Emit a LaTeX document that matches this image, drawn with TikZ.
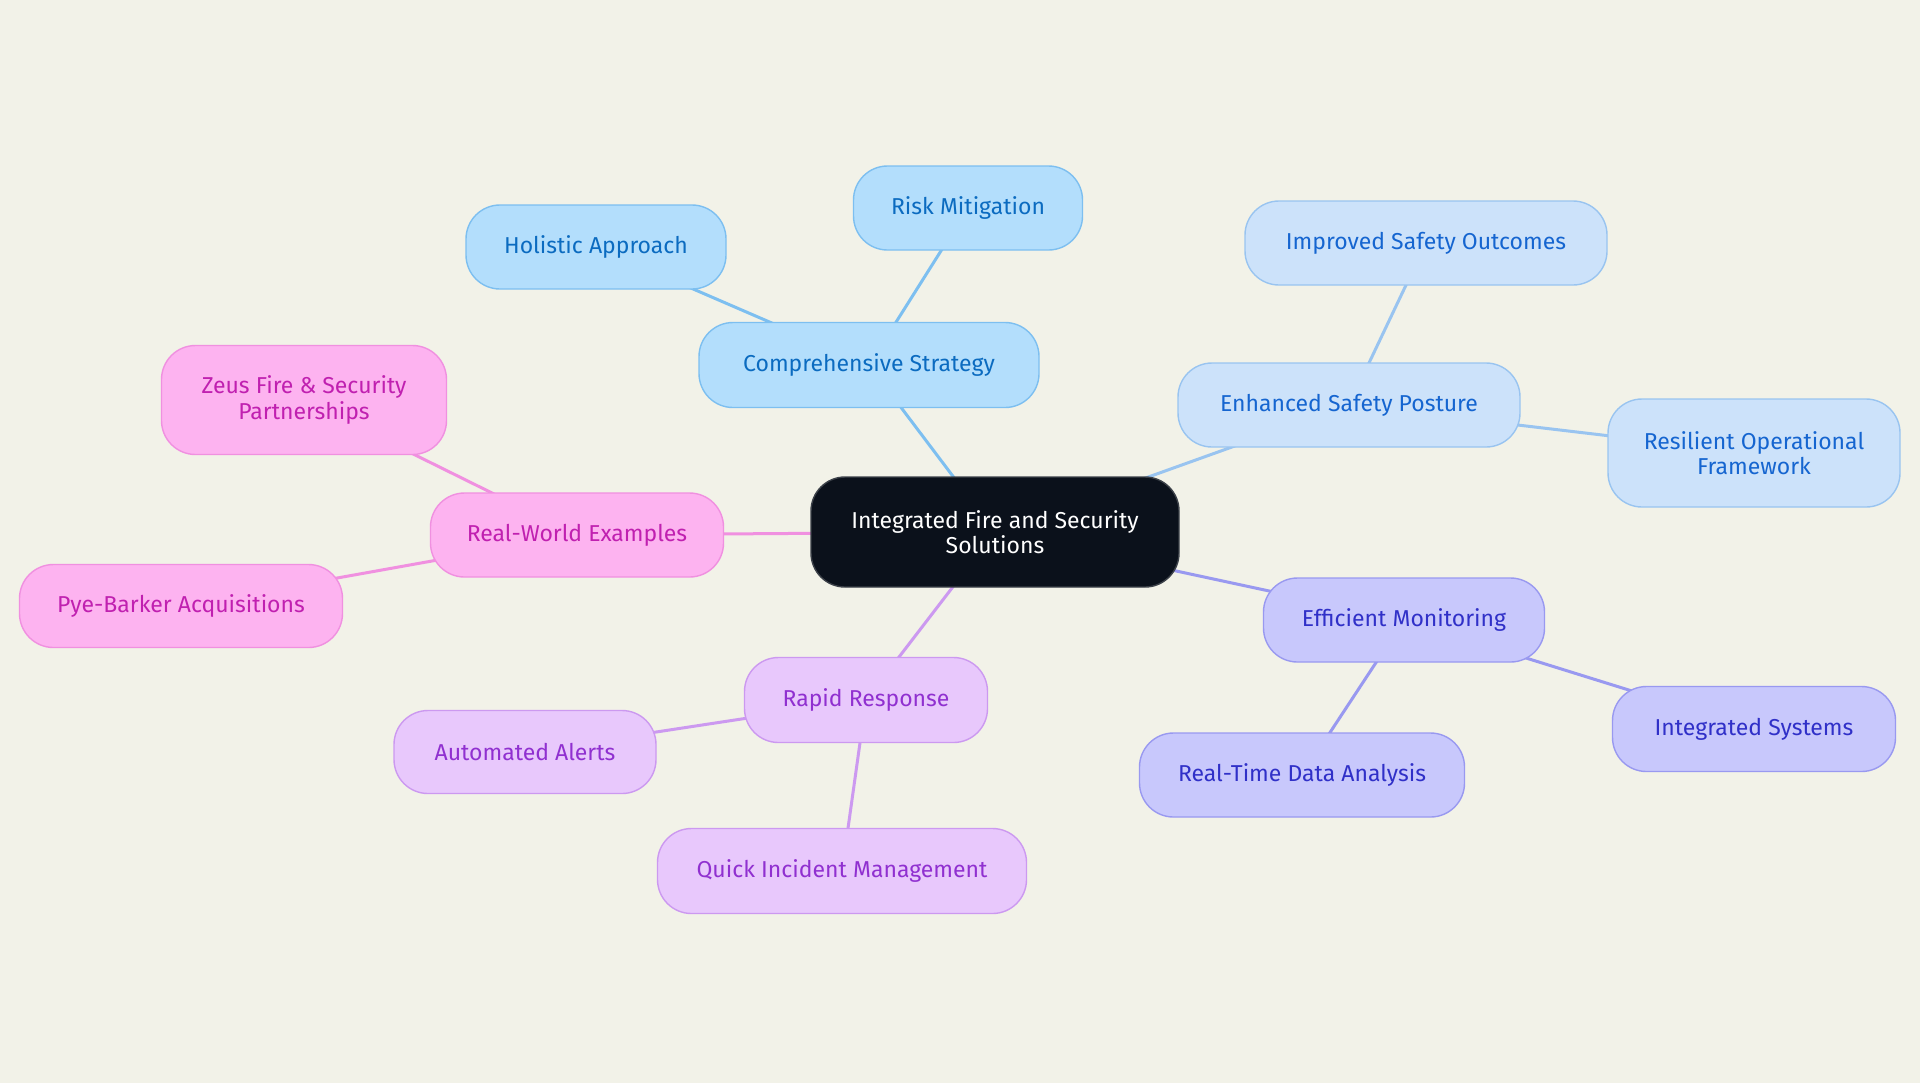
\documentclass[tikz,border=0pt]{standalone}
\usepackage{fontspec}
\setmainfont{Fira Sans}
\usetikzlibrary{backgrounds}
\definecolor{bg}{HTML}{F2F2E8}
\definecolor{rootfill}{HTML}{0B111B}
\definecolor{afill}{HTML}{B3DEFC}\definecolor{aline}{HTML}{7DBFF0}\definecolor{atext}{HTML}{0B6BC0}
\definecolor{bfill}{HTML}{CCE2FA}\definecolor{bline}{HTML}{99C4F0}\definecolor{btext}{HTML}{1565D0}
\definecolor{cfill}{HTML}{C8C8FC}\definecolor{cline}{HTML}{9999F0}\definecolor{ctext}{HTML}{3030C8}
\definecolor{dfill}{HTML}{E8C8FC}\definecolor{dline}{HTML}{CC99F0}\definecolor{dtext}{HTML}{9030D0}
\definecolor{efill}{HTML}{FDB3F0}\definecolor{eline}{HTML}{F090E0}\definecolor{etext}{HTML}{C020B0}
\tikzset{
  mnode/.style={rectangle, rounded corners=17pt, inner sep=0pt, align=center, line width=0.7pt,
    font=\fontsize{11.5}{12.8}\selectfont},
  rootnode/.style={mnode, fill=rootfill, draw=rootfill!80!white, text=white},
  anode/.style={mnode, fill=afill, draw=aline, text=atext},
  bnode/.style={mnode, fill=bfill, draw=bline, text=btext},
  cnode/.style={mnode, fill=cfill, draw=cline, text=ctext},
  dnode/.style={mnode, fill=dfill, draw=dline, text=dtext},
  enode/.style={mnode, fill=efill, draw=eline, text=etext},
  link/.style={line width=1.5pt},
}
\begin{document}
\begin{tikzpicture}[x=0.5pt,y=-0.5pt]
\useasboundingbox (0,0) rectangle (1920,1083);
\node[rootnode, minimum width=184pt, minimum height=55pt] (root) at (995,532) {Integrated Fire and Security\\Solutions};
\node[anode, minimum width=170pt, minimum height=42.5pt] (cs) at (869,365) {Comprehensive Strategy};
\node[anode, minimum width=114.5pt, minimum height=42pt] (rm) at (968,208) {Risk Mitigation};
\node[anode, minimum width=130pt, minimum height=42pt] (ha) at (596,247) {Holistic Approach};
\node[bnode, minimum width=171pt, minimum height=42pt] (esp) at (1349,405) {Enhanced Safety Posture};
\node[bnode, minimum width=181pt, minimum height=42pt] (iso) at (1426,243) {Improved Safety Outcomes};
\node[bnode, minimum width=146pt, minimum height=54pt] (rof) at (1754,453) {Resilient Operational\\Framework};
\node[cnode, minimum width=140.5pt, minimum height=42pt] (em) at (1404,620) {Efficient Monitoring};
\node[cnode, minimum width=141.5pt, minimum height=42.5pt] (is) at (1754,729) {Integrated Systems};
\node[cnode, minimum width=162.5pt, minimum height=42pt] (rtd) at (1302,775) {Real-Time Data Analysis};
\node[dnode, minimum width=121.5pt, minimum height=42.5pt] (rr) at (866,700) {Rapid Response};
\node[dnode, minimum width=184.5pt, minimum height=42.5pt] (qim) at (842,871) {Quick Incident Management};
\node[dnode, minimum width=131pt, minimum height=41.5pt] (aa) at (525,752) {Automated Alerts};
\node[enode, minimum width=146.5pt, minimum height=42pt] (rwe) at (577,535) {Real-World Examples};
\node[enode, minimum width=142.5pt, minimum height=54.5pt] (zeus) at (304,400) {Zeus Fire \& Security\\Partnerships};
\node[enode, minimum width=161.5pt, minimum height=41.5pt] (pye) at (181,606) {Pye-Barker Acquisitions};
\begin{scope}[on background layer]
\fill[bg] (0,0) rectangle (1920,1083);
\draw[link, aline] (root.center) -- (cs.center);
\draw[link, aline] (cs.center) -- (rm.center);
\draw[link, aline] (cs.center) -- (ha.center);
\draw[link, bline] (root.center) -- (esp.center);
\draw[link, bline] (esp.center) -- (iso.center);
\draw[link, bline] (esp.center) -- (rof.center);
\draw[link, cline] (root.center) -- (em.center);
\draw[link, cline] (em.center) -- (is.center);
\draw[link, cline] (em.center) -- (rtd.center);
\draw[link, dline] (root.center) -- (rr.center);
\draw[link, dline] (rr.center) -- (qim.center);
\draw[link, dline] (rr.center) -- (aa.center);
\draw[link, eline] (root.center) -- (rwe.center);
\draw[link, eline] (rwe.center) -- (zeus.center);
\draw[link, eline] (rwe.center) -- (pye.center);
\end{scope}
\end{tikzpicture}
\end{document}
